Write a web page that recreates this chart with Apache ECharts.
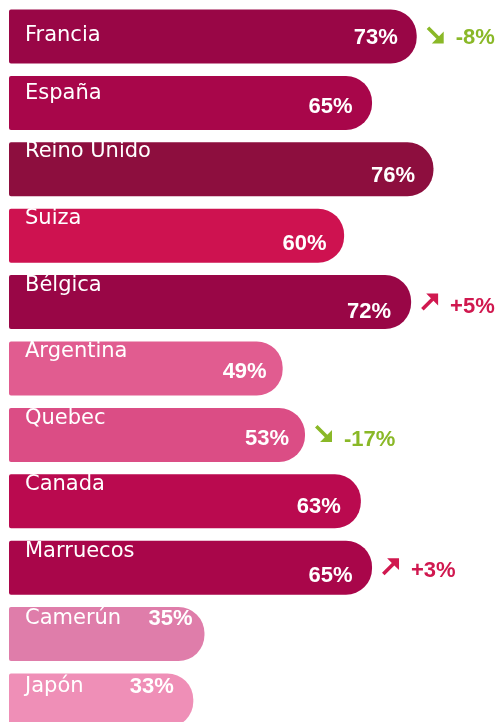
<!DOCTYPE html>
<html><head><meta charset="utf-8">
<script src="https://cdn.jsdelivr.net/npm/echarts@6/dist/echarts.min.js"></script>
<style>html,body{margin:0;padding:0;background:#fff}#c{width:504px;height:722px}</style>
</head><body><div id="c"></div>
<script>
// ---- data ----
const categories = ['Francia','España','Reino Unido','Suiza','Bélgica','Argentina','Quebec','Canada','Marruecos','Camerún','Japón'];
const values = [73, 65, 76, 60, 72, 49, 53, 63, 65, 35, 33];
const changes = [-8, null, null, null, 5, null, -17, null, 3, null, null];

// ---- style ----
const barColors = ['#990646','#A8064A','#8D0E3E','#CE1250','#990646','#E15C90','#DB4D85','#BA0A4F','#A9064A','#DF7DAA','#EF8FB7'];
const nameDy  = [-1, -9, -17.5, -17, -16.5, -17, -16.5, -17, -16.5, -15.5, -13.5];
const valDy   = [1, 4, 7, 8.5, 9.5, 3, 4, 5.5, 8, -15.5, -13.5];
const valGap  = [19, 19.5, 18.5, 17.5, 20, 16, 16, 20, 19.5, 12, 19.5];
const chgDy   = [1, 0, 0, 0, 5, 0, 5.5, 0, 3.5, 0, 0];
const arrDy   = [-1.5, 0, 0, 0, 0, 0, -1.5, 0, -1, 0, 0];
const GREEN = '#8AB827', RED = '#D0184F';
const ARROW_DOWN = 'path://M0 3 L3 0 L14.5 11.5 L20 6 L20 20 L6 20 L11.5 14.5 Z';
const ARROW_UP = 'path://M0 17 L3 20 L14.5 8.5 L20 14 L20 0 L6 0 L11.5 5.5 Z';

const chart = echarts.init(document.getElementById('c'), null, {renderer:'canvas'});
const BAR_W = 54;
const nameFont = '"DejaVu Sans", sans-serif';
const numFont = '"Liberation Sans", Arial, sans-serif';

const nameData = values.map((v, i) => ({
  value: v,
  itemStyle: { color: barColors[i] },
  label: { position: [16, 27 + nameDy[i]] }
}));
const valData = values.map((v, i) => ({
  value: v,
  label: { offset: [-valGap[i], valDy[i]] }
}));
const chgData = values.map((v, i) => ({
  value: v,
  label: { show: changes[i] !== null, offset: [39, chgDy[i]],
           color: changes[i] !== null && changes[i] < 0 ? GREEN : RED }
}));
const arrowPoints = [];
changes.forEach((c, i) => {
  if (c === null) return;
  arrowPoints.push({
    coord: [values[i], categories[i]],
    symbol: c < 0 ? ARROW_DOWN : ARROW_UP,
    symbolSize: [17, 17],
    symbolOffset: [18.5, arrDy[i]],
    itemStyle: { color: c < 0 ? GREEN : RED }
  });
});

chart.setOption({
  animation: false,
  grid: { left: 9, top: 36.5, right: 0, height: 664, containLabel: false },
  xAxis: { type: 'value', min: 0, max: 495 / 5.585, show: false },
  yAxis: { type: 'category', data: categories, inverse: true, show: false, boundaryGap: false },
  series: [
    { type: 'bar', data: nameData, barWidth: BAR_W, barGap: '-100%',
      itemStyle: { borderRadius: [2, 26, 26, 2] },
      label: { show: true, formatter: p => categories[p.dataIndex], align: 'left', verticalAlign: 'middle',
               color: '#fff', fontFamily: nameFont, fontSize: 21 } },
    { type: 'bar', data: valData, barWidth: BAR_W, barGap: '-100%',
      itemStyle: { color: 'rgba(0,0,0,0)' },
      label: { show: true, position: ['100%', '50%'], align: 'right', verticalAlign: 'middle',
               formatter: p => values[p.dataIndex] + '%', color: '#fff', fontFamily: numFont,
               fontWeight: 'bold', fontSize: 22 } },
    { type: 'bar', data: chgData, barWidth: BAR_W, barGap: '-100%',
      itemStyle: { color: 'rgba(0,0,0,0)' },
      label: { position: ['100%', '50%'], align: 'left', verticalAlign: 'middle',
               formatter: p => (changes[p.dataIndex] > 0 ? '+' : '') + changes[p.dataIndex] + '%',
               fontFamily: numFont, fontWeight: 'bold', fontSize: 22 },
      markPoint: { silent: true, label: { show: false }, data: arrowPoints } }
  ]
});
</script></body></html>
